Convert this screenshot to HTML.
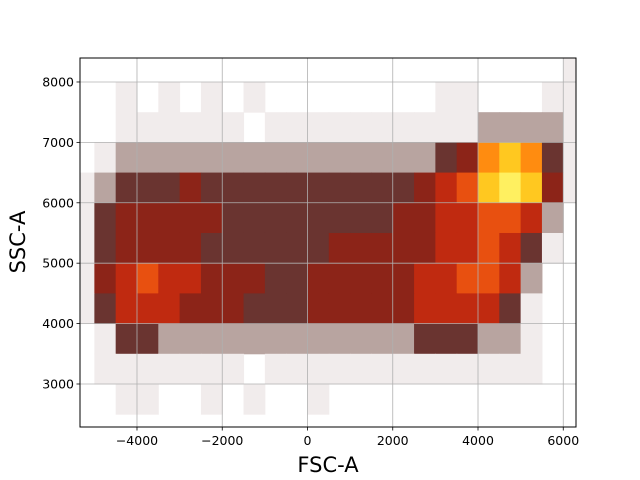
<!DOCTYPE html>
<html><head><meta charset="utf-8"><style>
body{margin:0;background:#fff;}
svg{display:block;font-family:"DejaVu Sans","Liberation Sans",sans-serif;}
</style></head><body>
<svg id="chart" width="640" height="480">
<defs><clipPath id="clip"><rect x="80" y="58" width="496" height="369"/></clipPath></defs>
<g id="cells" clip-path="url(#clip)"></g>
<g id="grid"></g>
<rect x="80" y="58" width="496" height="369" fill="none" stroke="#000" stroke-width="1"/>
<g id="ticks"></g>
<text x="328" y="472" text-anchor="middle" font-size="21">FSC-A</text>
<text transform="translate(25,242) rotate(-90)" text-anchor="middle" font-size="21">SSC-A</text>
</svg>
<script>
const xBinStarts=[-5500,-5000,-4500,-4000,-3500,-3000,-2500,-2000,-1500,-1000,-500,0,500,1000,1500,2000,2500,3000,3500,4000,4500,5000,5500,6000];
const yBinStarts=[8000,7500,7000,6500,6000,5500,5000,4500,4000,3500,3000,2500];
const binW=500, binH=500;
const densityRows=[
[0,0,0,0,0,0,0,0,0,0,0,0,0,0,0,0,0,0,0,0,0,0,0,1],
[0,0,1,0,1,0,1,0,1,0,0,0,0,0,0,0,0,1,1,0,0,0,1,1],
[0,0,1,1,1,1,1,1,0,1,1,1,1,1,1,1,1,1,1,2,2,2,2,1],
[0,1,2,2,2,2,2,2,2,2,2,2,2,2,2,2,2,3,4,7,8,7,3,1],
[1,2,3,3,3,4,3,3,3,3,3,3,3,3,3,3,4,5,6,8,9,8,4,1],
[1,3,4,4,4,4,4,3,3,3,3,3,3,3,3,4,4,5,5,6,6,5,2,0],
[1,3,4,4,4,4,3,3,3,3,3,3,4,4,4,4,4,5,5,6,5,3,1,0],
[1,4,5,6,5,5,4,4,4,3,3,4,4,4,4,4,5,5,6,6,5,2,0,0],
[1,3,5,5,5,4,4,4,3,3,3,4,4,4,4,4,5,5,5,5,3,1,0,0],
[0,1,3,3,2,2,2,2,2,2,2,2,2,2,2,2,3,3,3,2,2,1,0,0],
[0,1,1,1,1,1,1,1,0,1,1,1,1,1,1,1,1,1,1,1,1,1,0,0],
[0,0,1,1,0,0,1,0,1,0,0,1,0,0,0,0,0,0,0,0,0,0,0,0]
];
const xTicks=[-4000,-2000,0,2000,4000,6000];
const yTicks=[3000,4000,5000,6000,7000,8000];
const levelColors=["#ffffff","#f1ecec","#b8a4a0","#6a3430","#8c2418","#c02a10","#e85010","#ff8c10","#ffc820","#fff060"];

const X0=-5337,X1=6299,Y0=2288,Y1=8397;
const L=80,R=576,T=58,B=427;
const sx=v=>L+(v-X0)/(X1-X0)*(R-L);
const sy=v=>B-(v-Y0)/(Y1-Y0)*(B-T);
const NS="http://www.w3.org/2000/svg";
const cells=document.getElementById('cells');
densityRows.forEach((row,ri)=>{
  row.forEach((lv,ci)=>{
    if(!lv)return;
    const r=document.createElementNS(NS,'rect');
    const x0=sx(xBinStarts[ci]),x1=sx(xBinStarts[ci]+binW);
    const y0=sy(yBinStarts[ri]+binH),y1=sy(yBinStarts[ri]);
    r.setAttribute('x',x0);r.setAttribute('y',y0);
    r.setAttribute('width',x1-x0+0.5);r.setAttribute('height',y1-y0+0.5);
    r.setAttribute('fill',levelColors[lv]);
    
    
    cells.appendChild(r);
  });
});
const grid=document.getElementById('grid'),ticks=document.getElementById('ticks');
function line(g,x1,y1,x2,y2,stroke,w){const l=document.createElementNS(NS,'line');l.setAttribute('x1',x1);l.setAttribute('y1',y1);l.setAttribute('x2',x2);l.setAttribute('y2',y2);l.setAttribute('stroke',stroke);l.setAttribute('stroke-width',w);g.appendChild(l);return l;}
xTicks.forEach(v=>{
  const x=sx(v);
  const gl=line(grid,x,T,x,B,'#b0b0b0',0.8);
  
  
  line(ticks,x,B,x,B+3.5,'#000',0.8);
  const t=document.createElementNS(NS,'text');
  t.setAttribute('x',x);t.setAttribute('y',B+18);t.setAttribute('text-anchor','middle');t.setAttribute('font-size','12.5');
  t.textContent=v<0?'\u2212'+Math.abs(v):String(v);
  
  
  ticks.appendChild(t);
});
yTicks.forEach(v=>{
  const y=sy(v);
  const gl=line(grid,L,y,R,y,'#b0b0b0',0.8);
  
  
  line(ticks,L-3.5,y,L,y,'#000',0.8);
  const t=document.createElementNS(NS,'text');
  t.setAttribute('x',L-6);t.setAttribute('y',y+4.5);t.setAttribute('text-anchor','end');t.setAttribute('font-size','12.5');
  t.textContent=String(v);
  
  
  ticks.appendChild(t);
});
</script>
</body></html>
